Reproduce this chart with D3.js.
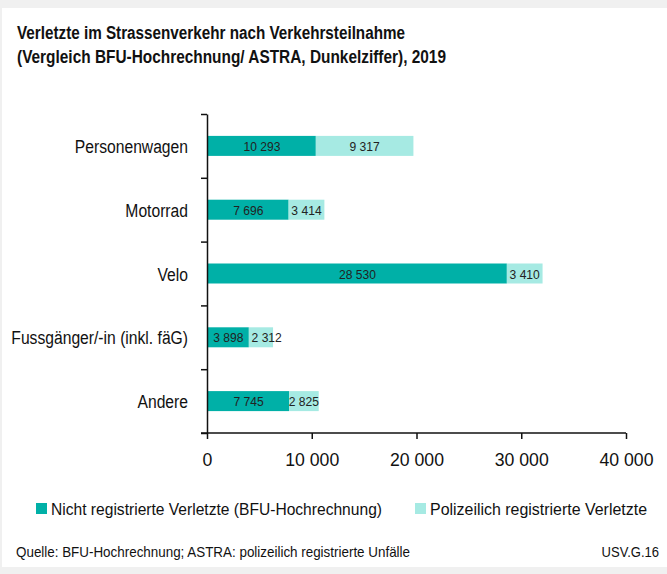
<!DOCTYPE html>
<html>
<head>
<meta charset="utf-8">
<script src="https://cdn.jsdelivr.net/npm/d3@7"></script>
<style>
  body { margin: 0; background: #f0f0f0; }
  svg { display: block; font-family: "Liberation Sans", Arial, sans-serif; }
</style>
</head>
<body>
<div id="chart"></div>
<script>

var svgWidth = 667;
var svgHeight = 574;

// data
var categories = ["Personenwagen", "Motorrad", "Velo", "Fussgänger/-in (inkl. fäG)", "Andere"];
var nichtRegistriert = [10293, 7696, 28530, 3898, 7745];
var polizeilich = [9317, 3414, 3410, 2312, 2825];
var seriesNames = ["Nicht registrierte Verletzte (BFU-Hochrechnung)", "Polizeilich registrierte Verletzte"];
var xTicks = [0, 10000, 20000, 30000, 40000];

var colors = ["#00b0a7", "#a6eae3"];

var margin = { top: 114, left: 207, right: 41, bottom: 141 };
var width = svgWidth - margin.left - margin.right;
var height = svgHeight - margin.top - margin.bottom;

var fmt = d3.formatLocale({ decimal: ".", thousands: " ", grouping: [3], currency: ["", ""] }).format(",d");

// the original uses a condensed face, so squeeze the glyphs horizontally
function squeeze(sel, k) {
  sel.each(function() {
    var w = this.getComputedTextLength();
    d3.select(this)
      .attr("textLength", w * k)
      .attr("lengthAdjust", "spacingAndGlyphs");
  });
}
function fitTo(sel, w) {
  sel.attr("textLength", w).attr("lengthAdjust", "spacingAndGlyphs");
}

var svg = d3.select("#chart")
  .append("svg")
  .attr("width", svgWidth)
  .attr("height", svgHeight);

// white card
svg.append("rect")
  .attr("x", 2)
  .attr("y", 8)
  .attr("width", svgWidth - 2)
  .attr("height", 559)
  .attr("fill", "#fff");

// title
var t1 = svg.append("text")
  .attr("x", 17).attr("y", 39)
  .attr("font-weight", 700).attr("font-size", 18).attr("fill", "#111")
  .text("Verletzte im Strassenverkehr nach Verkehrsteilnahme");
fitTo(t1, 388);
var t2 = svg.append("text")
  .attr("x", 17).attr("y", 63)
  .attr("font-weight", 700).attr("font-size", 18).attr("fill", "#111")
  .text("(Vergleich BFU-Hochrechnung/ ASTRA, Dunkelziffer), 2019");
fitTo(t2, 429);

var chartGroup = svg.append("g")
  .attr("transform", `translate(${margin.left}, ${margin.top})`);

var xScale = d3.scaleLinear()
  .domain([0, 40000])
  .range([0, width]);

var yScale = d3.scaleBand()
  .domain(categories)
  .range([0, height]);

// boundary ticks on the y axis
var yIndex = d3.scaleLinear()
  .domain([0, categories.length])
  .range([0, height]);

var barH = 20;

// stacked data
var rows = categories.map(function(c, i) {
  return { cat: c, a: nichtRegistriert[i], b: polizeilich[i] };
});

// dark segments
chartGroup.selectAll(".barA")
  .data(rows)
  .enter()
  .append("rect")
  .attr("class", "barA")
  .attr("x", xScale(0) + 1)
  .attr("y", d => yScale(d.cat) + yScale.bandwidth() / 2 - barH / 2)
  .attr("width", d => xScale(d.a) - xScale(0))
  .attr("height", barH)
  .attr("fill", colors[0]);

// light segments
chartGroup.selectAll(".barB")
  .data(rows)
  .enter()
  .append("rect")
  .attr("class", "barB")
  .attr("x", d => xScale(d.a) + 1)
  .attr("y", d => yScale(d.cat) + yScale.bandwidth() / 2 - barH / 2)
  .attr("width", d => xScale(d.a + d.b) - xScale(d.a))
  .attr("height", barH)
  .attr("fill", colors[1]);

// value labels
var labelSize = 13;
rows.forEach(function(d) {
  var cy = yScale(d.cat) + yScale.bandwidth() / 2 + 5;
  var ta = chartGroup.append("text")
    .attr("x", (xScale(0) + xScale(d.a)) / 2 + 1)
    .attr("y", cy)
    .attr("text-anchor", "middle")
    .attr("font-size", labelSize)
    .attr("fill", "#222")
    .text(fmt(d.a));
  var tb = chartGroup.append("text")
    .attr("x", (xScale(d.a) + xScale(d.a + d.b)) / 2 + 1)
    .attr("y", cy)
    .attr("text-anchor", "middle")
    .attr("font-size", labelSize)
    .attr("fill", "#222")
    .text(fmt(d.b));
  squeeze(ta, 0.93);
  squeeze(tb, 0.93);
  // nudge right label if it runs into the left one
  var boxA = ta.node().getBBox();
  var boxB = tb.node().getBBox();
  var gap = 8;
  if (boxB.x < boxA.x + boxA.width + gap) {
    tb.attr("x", +tb.attr("x") + (boxA.x + boxA.width + gap - boxB.x));
  }
});

// y axis
var leftAxis = d3.axisLeft(yIndex)
  .tickValues(d3.range(categories.length + 1))
  .tickFormat("")
  .tickSize(6)
  .tickSizeOuter(0);

var yAxis = chartGroup.append("g")
  .call(leftAxis);
yAxis.select(".domain").attr("stroke", "#111").attr("stroke-width", 1.5);
yAxis.selectAll(".tick line").attr("stroke", "#111").attr("stroke-width", 1.5);

// category labels
var catLabels = chartGroup.selectAll(".catLabel")
  .data(categories)
  .enter()
  .append("text")
  .attr("class", "catLabel")
  .attr("x", -19)
  .attr("y", d => yScale(d) + yScale.bandwidth() / 2 + 7)
  .attr("text-anchor", "end")
  .attr("font-size", 18)
  .attr("fill", "#111")
  .text(d => d);
squeeze(catLabels, 0.87);

// x axis
var bottomAxis = d3.axisBottom(xScale)
  .tickValues(xTicks)
  .tickFormat(fmt)
  .tickSize(6)
  .tickSizeOuter(0)
  .tickPadding(14);

var xAxis = chartGroup.append("g")
  .attr("transform", `translate(0, ${height})`)
  .call(bottomAxis);
xAxis.select(".domain").attr("stroke", "#111").attr("stroke-width", 1.5)
  .attr("d", `M-6,0H${width}`);
xAxis.selectAll(".tick line").attr("stroke", "#111").attr("stroke-width", 1.5);
var tickText = xAxis.selectAll(".tick text")
  .attr("font-size", 19)
  .attr("font-family", "Liberation Sans, Arial, sans-serif")
  .attr("fill", "#111");
squeeze(tickText, 0.93);

// legend
var legendItems = [
  { name: seriesNames[0], color: colors[0], x: 36, w: 331 },
  { name: seriesNames[1], color: colors[1], x: 415, w: 217 }
];
var legend = svg.append("g");
legend.selectAll("rect")
  .data(legendItems)
  .enter()
  .append("rect")
  .attr("x", d => d.x)
  .attr("y", 503)
  .attr("width", 11)
  .attr("height", 11)
  .attr("fill", d => d.color);
legend.selectAll("text")
  .data(legendItems)
  .enter()
  .append("text")
  .attr("x", d => d.x + 15)
  .attr("y", 515)
  .attr("font-size", 17)
  .attr("fill", "#111")
  .attr("textLength", d => d.w)
  .attr("lengthAdjust", "spacingAndGlyphs")
  .text(d => d.name);

// footer
var src = svg.append("text")
  .attr("x", 16)
  .attr("y", 557)
  .attr("font-size", 15)
  .attr("fill", "#111")
  .text("Quelle: BFU-Hochrechnung; ASTRA: polizeilich registrierte Unfälle");
fitTo(src, 394);

// chart code, right aligned by hand so the squeezed width is used
var code = svg.append("text")
  .attr("y", 557)
  .attr("font-size", 14)
  .attr("fill", "#111")
  .text("USV.G.16");
var codeW = code.node().getComputedTextLength() * 0.93;
fitTo(code, codeW);
code.attr("x", 659 - codeW);

</script>
</body>
</html>
